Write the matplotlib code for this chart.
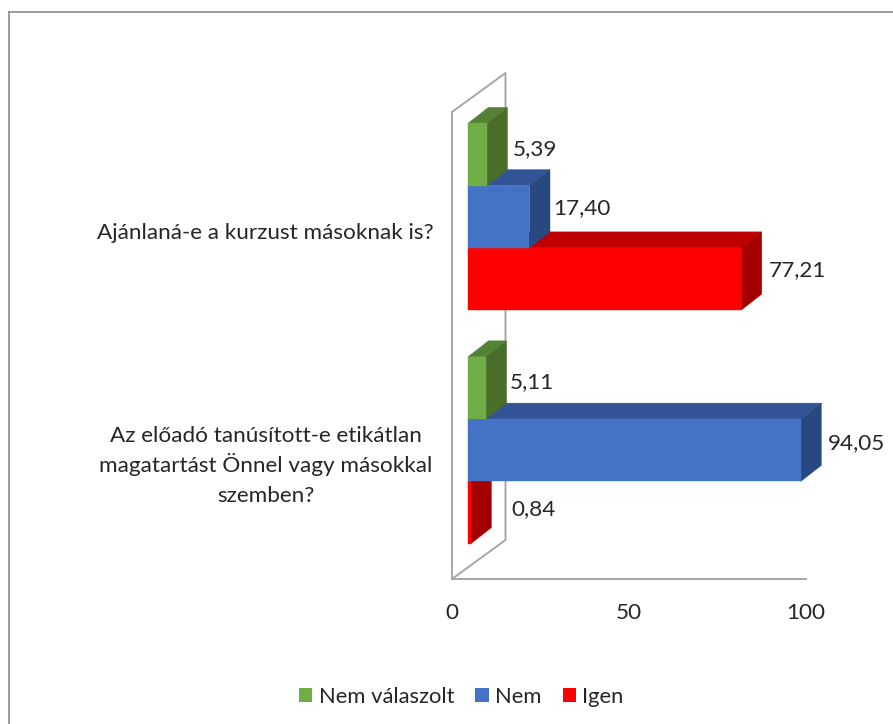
import matplotlib
matplotlib.use('Agg')
import matplotlib.pyplot as plt
from matplotlib.lines import Line2D
from matplotlib.patches import Patch, Polygon

# Data
categories = ['Az előadó tanúsított-e etikátlan\nmagatartást Önnel vagy másokkal\nszemben?',
              'Ajánlaná-e a kurzust másoknak is?']
igen = [0.84, 77.21]
nem = [94.05, 17.40]
nem_valaszolt = [5.11, 5.39]
value_labels = {'igen': ['0,84', '77,21'], 'nem': ['94,05', '17,40'], 'nv': ['5,11', '5,39']}

# Figure size and plot box, in pixels of the reference
W, H = 893, 724
LEFT, RIGHT, TOP, FLOOR = 452, 806, 112, 579
PX_X = 100 / (RIGHT - LEFT)
PX_Y = 2 / (FLOOR - TOP)

# Oblique depth offsets, data units
WALL_DX, WALL_DY = 53.5 * PX_X, 39 * PX_Y
FRONT_DX, FRONT_DY = 15.9 * PX_X, 12 * PX_Y
BACK_DX, BACK_DY = 36.4 * PX_X, 28 * PX_Y
BAR_H = 1 / 3.75

GRAY = '#A6A6A6'
TEXT = '#262626'
FONT = 16.2

plt.rcParams['font.family'] = ['Lato', 'DejaVu Sans']

fig = plt.figure(figsize=(W / 100, H / 100), dpi=100)
ax = fig.add_axes([LEFT / W, 1 - FLOOR / H, (RIGHT - LEFT) / W, (FLOOR - TOP) / H])
ax.set_xlim(0, 100)
ax.set_ylim(0, 2)
ax.patch.set_visible(False)
for side in ['top', 'right']:
    ax.spines[side].set_visible(False)
for side in ['left', 'bottom']:
    ax.spines[side].set_color(GRAY)
    ax.spines[side].set_linewidth(1.4)

ax.set_xticks([0, 50, 100])
ax.set_yticks([])
ax.tick_params(axis='x', length=0, pad=17, labelsize=FONT, labelcolor=TEXT)

# Back wall outline
ax.plot([0, WALL_DX, WALL_DX, 0], [2, 2 + WALL_DY, WALL_DY, 0], color=GRAY, lw=1.4,
        clip_on=False, zorder=1)


def draw_bar(value, y_mid, front, top, side):
    y0, y1 = y_mid - BAR_H / 2 + FRONT_DY, y_mid + BAR_H / 2 + FRONT_DY
    x0, x1 = FRONT_DX, value + FRONT_DX
    ddx, ddy = BACK_DX - FRONT_DX, BACK_DY - FRONT_DY
    ax.add_patch(Polygon([(x0, y1), (x1, y1), (x1 + ddx, y1 + ddy), (x0 + ddx, y1 + ddy)],
                         fc=top, ec=top, lw=0.3, clip_on=False, zorder=2))
    ax.add_patch(Polygon([(x1, y0), (x1, y1), (x1 + ddx, y1 + ddy), (x1 + ddx, y0 + ddy)],
                         fc=side, ec=side, lw=0.3, clip_on=False, zorder=2))
    ax.add_patch(Polygon([(x0, y0), (x1, y0), (x1, y1), (x0, y1)],
                         fc=front, ec=front, lw=0.3, clip_on=False, zorder=2))


# (values, labels, vertical slot, colours), drawn from the bottom bar up
series = [
    (igen, value_labels['igen'], -1, '#FF0000', '#BF0000', '#A50000'),
    (nem, value_labels['nem'], 0, '#4472C4', '#325496', '#2A4880'),
    (nem_valaszolt, value_labels['nv'], 1, '#70AD47', '#548235', '#4A6E2A'),
]
for values, labels, slot, front, top, side in series:
    for i, v in enumerate(values):
        draw_bar(v, i + 0.5 + slot * BAR_H, front, top, side)

# Data labels: gap from bar end and lift above bar centre, in pixels
label_nudge = {
    (-1, 0): (41, 3), (-1, 1): (28, 9),
    (0, 0): (27, 7), (0, 1): (24, 8.5),
    (1, 0): (24, 6), (1, 1): (25.5, 5),
}
for values, labels, slot, *_ in series:
    for i, v in enumerate(values):
        nx, ny = label_nudge[(slot, i)]
        ax.text(v + FRONT_DX + nx * PX_X, i + 0.5 + slot * BAR_H + FRONT_DY + ny * PX_Y, labels[i],
                ha='left', va='center', fontsize=FONT, color=TEXT, clip_on=False, zorder=3)

# Category labels, one text per line so the baselines stay evenly spaced
cat_x = -186.5 * PX_X
line_gap = 30 * PX_Y
for i, cat in enumerate(categories):
    lines = cat.split('\n')
    # baseline of the middle of the block sits about 7 px under the band centre shift
    mid = i + 0.5 - 10 * PX_Y
    for j, line in enumerate(lines):
        ax.text(cat_x, mid + ((len(lines) - 1) / 2 - j) * line_gap, line, ha='center', va='baseline',
                fontsize=FONT, color=TEXT, clip_on=False)

# Legend
handles = [Patch(fc='#70AD47', label='Nem válaszolt'),
           Patch(fc='#4472C4', label='Nem'),
           Patch(fc='#FF0000', label='Igen')]
fig.legend(handles=handles, loc='center', bbox_to_anchor=(461.5 / W, 1 - 697 / H), ncol=3,
           frameon=False, fontsize=15.8, handlelength=0.6, handleheight=0.6,
           handletextpad=0.3, columnspacing=0.95, labelcolor=TEXT)

# Chart frame, cropped at the right and bottom of the picture
fig.add_artist(Line2D([8.5 / W, 8.5 / W], [0, 1 - 11.5 / H], color='#8C8C8C', lw=1.2))
fig.add_artist(Line2D([8.5 / W, 1], [1 - 11.5 / H, 1 - 11.5 / H], color='#8C8C8C', lw=1.2))

fig.savefig('out.png', dpi=100)
